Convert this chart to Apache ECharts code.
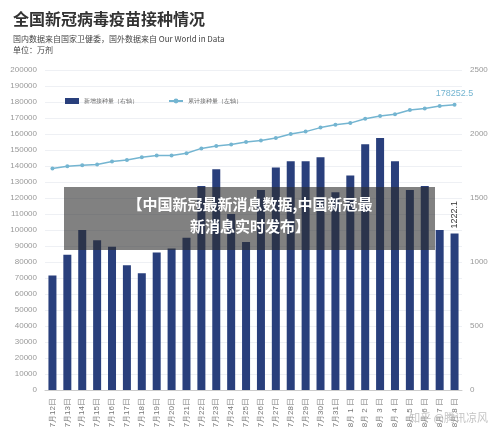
<!DOCTYPE html>
<html><head><meta charset="utf-8">
<script src="https://cdn.jsdelivr.net/npm/echarts@6/dist/echarts.min.js"></script>
<style>html,body{margin:0;padding:0;background:#fff}#c{width:500px;height:438px}</style>
</head><body><div id="c"></div>
<script>
const categories = ['7月12日','7月13日','7月14日','7月15日','7月16日','7月17日','7月18日','7月19日','7月20日','7月21日','7月22日','7月23日','7月24日','7月25日','7月26日','7月27日','7月28日','7月29日','7月30日','7月31日','8月 1 日','8月 2 日','8月 3 日','8月 4 日','8月 5 日','8月 6 日','8月 7 日','8月 8 日'];
const dailyDoses = [894,1056,1250,1169,1119,975,913,1075,1106,1190,1594,1725,1375,1156,1563,1738,1788,1788,1819,1544,1675,1919,1969,1788,1563,1594,1250,1222.1];
const cumulativeDoses = [138500,139800,140500,141000,142800,143800,145500,146500,146500,148000,151000,152500,153500,155000,156000,157500,160000,161500,164000,165800,166800,169500,171300,172400,175000,176000,177500,178252.5];
const chart = echarts.init(document.getElementById('c'));
const g = '#999';
chart.setOption({
  animation:false,
  title:{text:'全国新冠病毒疫苗接种情况',left:8,top:6,textStyle:{fontSize:16,fontWeight:'bold',color:'#333',fontFamily:'Noto Sans CJK SC'},
    subtext:'国内数据来自国家卫健委，国外数据来自 Our World in Data\n单位：万剂',subtextStyle:{fontSize:8,color:'#444',lineHeight:11,fontFamily:'Noto Sans CJK SC'},itemGap:6},
  legend:{top:93,left:60,itemWidth:14,itemHeight:6,itemGap:30,textStyle:{fontSize:6,color:'#666'},
    data:[{name:'新增接种量（右轴）',icon:'rect'},{name:'累计接种量（左轴）'}]},
  grid:{left:45,right:38,top:70,bottom:48},
  xAxis:{type:'category',data:categories,axisTick:{show:false},axisLine:{lineStyle:{color:'#ccc'}},
    axisLabel:{rotate:90,fontSize:8,color:'#777',interval:0}},
  yAxis:[
    {type:'value',min:0,max:200000,interval:10000,axisLabel:{fontSize:8,color:g,formatter:v=>String(v)},splitLine:{lineStyle:{color:'#eef0f4'}}},
    {type:'value',min:0,max:2500,interval:500,axisLabel:{fontSize:8,color:g,formatter:v=>String(v)},splitLine:{show:false}}
  ],
  series:[
    {name:'新增接种量（右轴）',type:'bar',yAxisIndex:1,data:dailyDoses,barWidth:8,itemStyle:{color:'#293f7c'},
      label:{show:true,position:'top',rotate:90,align:'left',verticalAlign:'middle',fontSize:9,color:'#333',formatter:p=>p.dataIndex===27?'1222.1':''}},
    {name:'累计接种量（左轴）',type:'line',data:cumulativeDoses,symbol:'circle',symbolSize:4,
      lineStyle:{color:'#74b5d1',width:1.5},itemStyle:{color:'#74b5d1'},
      label:{show:true,position:'top',fontSize:9,color:'#74b5d1',formatter:p=>p.dataIndex===27?'178252.5':''}}
  ],
  graphic:[
    {type:'rect',z:100,left:64,top:187,shape:{width:371,height:63},style:{fill:'rgba(45,45,45,0.6)'}},
    {type:'text',z:101,x:250,y:193,style:{text:'【中国新冠最新消息数据,中国新冠最\n新消息实时发布】',fill:'#fff',font:'bold 15px "Noto Sans CJK SC"',align:'center',textAlign:'center',lineHeight:22}},
    {type:'text',z:101,right:12,top:412,style:{text:'知乎 @腾讯凉风',fill:'rgba(170,170,170,0.7)',font:'11px "Noto Sans CJK SC"'}}
  ]
});
</script></body></html>
